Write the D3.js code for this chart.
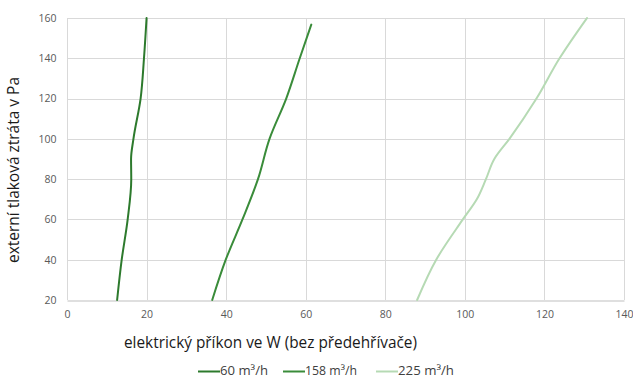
<!DOCTYPE html>
<html>
<head>
<meta charset="utf-8">
<script src="https://cdn.jsdelivr.net/npm/d3@7/dist/d3.min.js"></script>
<style>
  html, body { margin: 0; padding: 0; background: #fff; }
  svg { display: block; font-family: "Open Sans", "Noto Sans", sans-serif; }
</style>
</head>
<body>
<svg id="chart" width="633" height="378"></svg>
<script>
// Pressure loss (Pa) against electrical power input (W) for three airflows
const pressure60  = [20, 40, 60, 80, 90, 100, 120, 140, 160];
const power60     = [12.6, 13.75, 15.25, 16.15, 16.1, 16.7, 18.5, 19.35, 20.0];

const pressure158 = [20, 40, 60, 80, 100, 120, 140, 156.7];
const power158    = [36.5, 39.9, 44.1, 48.0, 50.9, 55.1, 58.5, 61.4];

const pressure225 = [20, 40, 60, 70, 80, 90, 100, 120, 140, 160];
const power225    = [88.0, 92.8, 99.5, 103.0, 105.3, 107.4, 111.2, 118.0, 123.8, 130.7];

const seriesNames = ["60 m³/h", "158 m³/h", "225 m³/h"];
const seriesColors = ["#2d7a2d", "#3a8c3a", "#b6dab4"];

const xTicks = [0, 20, 40, 60, 80, 100, 120, 140];
const yTicks = [20, 40, 60, 80, 100, 120, 140, 160];

const xTitle = "elektrický příkon ve W (bez předehřívače)";
const yTitle = "externí tlaková ztráta v Pa";

const svg = d3.select("#chart");
const margin = { left: 67, right: 9, top: 18, bottom: 78 };
const W = 633, H = 378;

const x = d3.scaleLinear().domain([0, 140]).range([margin.left, W - margin.right]);
const y = d3.scaleLinear().domain([20, 160]).range([H - margin.bottom, margin.top]);

// grid
const grid = svg.append("g");
grid.selectAll("line.v").data(xTicks).join("line")
  .attr("x1", d => Math.round(x(d)) + 0.5).attr("x2", d => Math.round(x(d)) + 0.5)
  .attr("y1", y(160)).attr("y2", y(20))
  .attr("stroke", "#d9d9d9").attr("stroke-width", 1);
grid.selectAll("line.h").data(yTicks.filter(d => d !== 20)).join("line")
  .attr("x1", x(0)).attr("x2", x(140))
  .attr("y1", d => Math.round(y(d)) + 0.5).attr("y2", d => Math.round(y(d)) + 0.5)
  .attr("stroke", "#d9d9d9").attr("stroke-width", 1);

// axes
const xAxis = svg.append("g")
  .attr("transform", `translate(0,${Math.round(y(20)) + 0.5})`)
  .call(d3.axisBottom(x).tickValues(xTicks).tickSize(0).tickPadding(10));
xAxis.select(".domain").attr("stroke", "#bfbfbf");
xAxis.selectAll("text").attr("fill", "#595959").style("font-size", "10.5px")
  .style("font-family", "'Open Sans', sans-serif");

const yAxis = svg.append("g")
  .attr("transform", `translate(${Math.round(x(0)) + 0.5},0)`)
  .call(d3.axisLeft(y).tickValues(yTicks).tickSize(0).tickPadding(11));
yAxis.select(".domain").remove();
yAxis.selectAll("text").attr("fill", "#595959").style("font-size", "10.5px")
  .style("font-family", "'Open Sans', sans-serif");

// curves
const data = [
  { p: pressure60, w: power60 },
  { p: pressure158, w: power158 },
  { p: pressure225, w: power225 }
];
const line = d3.line()
  .x(d => x(d[0]))
  .y(d => y(d[1]))
  .curve(d3.curveMonotoneY);

data.forEach((s, i) => {
  const pts = s.p.map((pv, k) => [s.w[k], pv]);
  svg.append("path")
    .datum(pts)
    .attr("d", line)
    .attr("fill", "none")
    .attr("stroke", seriesColors[i])
    .attr("stroke-width", 2)
    .attr("stroke-linecap", "round");
});

// axis titles
svg.append("text")
  .attr("x", 124).attr("y", 348)
  .attr("fill", "#1a1a1a")
  .style("font-size", "15.5px")
  .attr("textLength", 293).attr("lengthAdjust", "spacingAndGlyphs")
  .text(xTitle);

svg.append("text")
  .attr("transform", "translate(19,263) rotate(-90)")
  .attr("fill", "#1a1a1a")
  .style("font-size", "15.5px")
  .attr("textLength", 186).attr("lengthAdjust", "spacingAndGlyphs")
  .text(yTitle);

// legend
const legendX = [198, 283, 376];
const legendTextW = [48, 52, 56];
const legend = svg.append("g");
seriesNames.forEach((name, i) => {
  const g = legend.append("g").attr("transform", `translate(${legendX[i]},0)`);
  g.append("line")
    .attr("x1", 0).attr("x2", 22).attr("y1", 371.5).attr("y2", 371.5)
    .attr("stroke", seriesColors[i]).attr("stroke-width", 2);
  g.append("text")
    .attr("x", 22).attr("y", 375)
    .attr("fill", "#404040")
    .style("font-size", "12px")
    .attr("textLength", legendTextW[i]).attr("lengthAdjust", "spacingAndGlyphs")
    .text(name);
});
</script>
</body>
</html>
